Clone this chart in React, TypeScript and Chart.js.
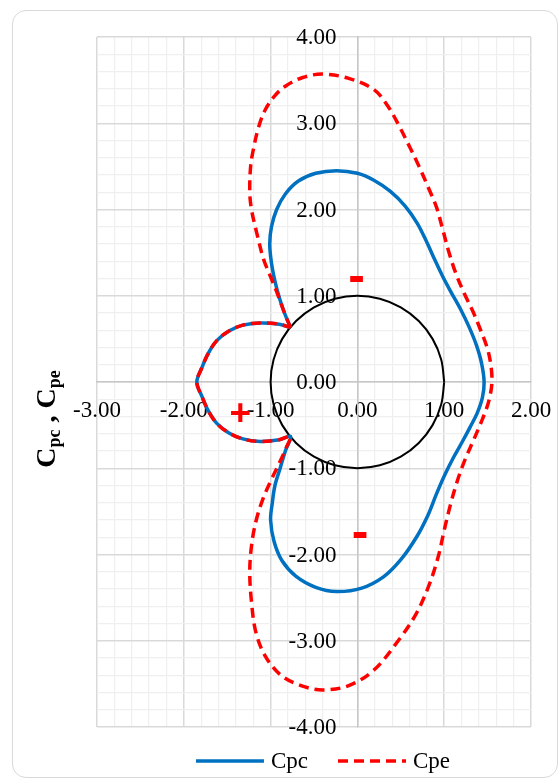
import { useEffect, useRef } from 'react';
import { Chart, registerables } from 'chart.js';

Chart.register(...registerables);

// ---- axis ranges and ticks ----
const X_MIN = -3;
const X_MAX = 2;
const Y_MIN = -4;
const Y_MAX = 4;
const MINOR_STEP = 0.2;

// ---- series labels ----
const SERIES_LABELS = ['Cpc', 'Cpe'];

// ---- Cpc curve (x, y), closed loop ----
const CPC_POINTS: [number, number][] = [
  [-0.77, 0.63], [-0.84, 0.8], [-0.9, 0.98], [-0.95, 1.17], [-0.99, 1.38], [-1.01, 1.6],
  [-0.99, 1.8], [-0.93, 2.0], [-0.83, 2.18], [-0.68, 2.33], [-0.48, 2.42], [-0.24, 2.45],
  [0.0, 2.42], [0.19, 2.34], [0.38, 2.21], [0.55, 2.04], [0.69, 1.84], [0.8, 1.62],
  [0.89, 1.42], [0.98, 1.23], [1.08, 1.04], [1.19, 0.84], [1.29, 0.63], [1.37, 0.43],
  [1.43, 0.22], [1.46, 0.0], [1.44, -0.18], [1.38, -0.36], [1.3, -0.52], [1.21, -0.69],
  [1.11, -0.87], [1.01, -1.07], [0.91, -1.3], [0.81, -1.55], [0.68, -1.8], [0.5, -2.06],
  [0.3, -2.26], [0.05, -2.39], [-0.24, -2.43], [-0.48, -2.38], [-0.71, -2.25], [-0.87, -2.07],
  [-0.96, -1.85], [-1.0, -1.6], [-0.98, -1.4], [-0.95, -1.2], [-0.89, -1.0], [-0.83, -0.8],
  [-0.77, -0.63], [-0.9, -0.67], [-1.12, -0.69], [-1.32, -0.66], [-1.48, -0.59], [-1.62, -0.48],
  [-1.72, -0.33], [-1.79, -0.17], [-1.85, 0.0], [-1.79, 0.17], [-1.72, 0.33], [-1.62, 0.48],
  [-1.48, 0.59], [-1.32, 0.66], [-1.12, 0.685], [-0.9, 0.67], [-0.77, 0.63],
];

// ---- Cpe curve (x, y), closed loop ----
const CPE_POINTS: [number, number][] = [
  [-0.77, 0.63], [-0.84, 0.8], [-0.92, 1.02], [-1.0, 1.22], [-1.08, 1.42], [-1.16, 1.73],
  [-1.22, 2.0], [-1.24, 2.2], [-1.23, 2.5], [-1.2, 2.69], [-1.14, 2.95], [-1.06, 3.16],
  [-0.95, 3.32], [-0.83, 3.43], [-0.63, 3.53], [-0.4, 3.57], [-0.1, 3.52], [0.19, 3.39],
  [0.35, 3.2], [0.48, 2.97], [0.6, 2.73], [0.71, 2.5], [0.81, 2.27], [0.91, 2.03],
  [0.98, 1.78], [1.05, 1.52], [1.13, 1.27], [1.23, 1.03], [1.33, 0.82], [1.42, 0.6],
  [1.5, 0.38], [1.54, 0.18], [1.55, 0.0], [1.53, -0.15], [1.49, -0.3],
  [1.42, -0.48], [1.34, -0.67], [1.24, -0.9], [1.15, -1.15], [1.07, -1.43], [1.0, -1.72], [0.93, -2.03],
  [0.82, -2.37], [0.67, -2.7], [0.47, -3.0], [0.19, -3.34], [-0.1, -3.52], [-0.4, -3.57],
  [-0.65, -3.52], [-0.88, -3.4], [-1.06, -3.18], [-1.17, -2.9], [-1.22, -2.55], [-1.24, -2.2],
  [-1.22, -1.9], [-1.17, -1.62], [-1.09, -1.36], [-0.99, -1.13], [-0.89, -0.92], [-0.82, -0.76],
  [-0.77, -0.63], [-0.9, -0.67], [-1.12, -0.69], [-1.32, -0.66], [-1.48, -0.59], [-1.62, -0.48],
  [-1.72, -0.33], [-1.79, -0.17], [-1.85, 0.0], [-1.79, 0.17], [-1.72, 0.33], [-1.62, 0.48],
  [-1.48, 0.59], [-1.32, 0.66], [-1.12, 0.685], [-0.9, 0.67], [-0.77, 0.63],
];

// ---- unit circle (cylinder surface), points every 15 degrees ----
const CIRCLE_POINTS: [number, number][] = [
  [1, 0], [0.966, 0.259], [0.866, 0.5], [0.707, 0.707], [0.5, 0.866], [0.259, 0.966],
  [0, 1], [-0.259, 0.966], [-0.5, 0.866], [-0.707, 0.707], [-0.866, 0.5], [-0.966, 0.259],
  [-1, 0], [-0.966, -0.259], [-0.866, -0.5], [-0.707, -0.707], [-0.5, -0.866], [-0.259, -0.966],
  [0, -1], [0.259, -0.966], [0.5, -0.866], [0.707, -0.707], [0.866, -0.5], [0.966, -0.259], [1, 0],
];

// ---- pressure sign annotations ----
const SIGN_TEXT = ['+', '-', '-'];
const SIGN_X = [-1.35, -0.01, 0.03];
const SIGN_Y = [-0.35, 1.19, -1.77];

// ---- axis title pieces ----
const TITLE_PARTS = [
  { text: 'C', sub: false },
  { text: 'pc', sub: true },
  { text: ' , ', sub: false },
  { text: 'C', sub: false },
  { text: 'pe', sub: true },
];

const toXY = (pts: [number, number][]) => pts.map(([x, y]) => ({ x, y }));
const isMajor = (v: number) => Math.abs(v - Math.round(v)) < 1e-6;
const fmtTick = (v: any) => {
  const n = Number(v);
  return isMajor(n) ? Math.round(n).toFixed(2) : '';
};

const BLUE = '#0070C0';
const RED = '#FF0000';
const SERIF = '"Liberation Serif", "Times New Roman", serif';
const TICK_FONT = `23px ${SERIF}`;

// y tick labels sit just left of the x = 0 axis line
const yLabelPlugin = {
  id: 'yLabels',
  afterDraw(chart: any) {
    const { ctx, scales } = chart;
    const axisX = scales.x.getPixelForValue(0);
    ctx.save();
    ctx.font = TICK_FONT;
    ctx.fillStyle = '#000';
    ctx.textAlign = 'right';
    ctx.textBaseline = 'middle';
    scales.y.ticks.forEach((t: any) => {
      const label = fmtTick(t.value);
      if (!label) return;
      ctx.fillText(label, axisX - 21, scales.y.getPixelForValue(t.value) + 1);
    });
    ctx.restore();
  },
};

const signPlugin = {
  id: 'signs',
  afterDatasetsDraw(chart: any) {
    const { ctx, scales } = chart;
    ctx.save();
    ctx.fillStyle = RED;
    ctx.textAlign = 'center';
    ctx.textBaseline = 'alphabetic';
    SIGN_TEXT.forEach((t, i) => {
      ctx.font = `bold ${t === '+' ? 37 : 50}px "Liberation Sans", Arial, sans-serif`;
      const px = scales.x.getPixelForValue(SIGN_X[i]);
      const py = scales.y.getPixelForValue(SIGN_Y[i]);
      const m = ctx.measureText(t);
      const asc = m.actualBoundingBoxAscent;
      const desc = m.actualBoundingBoxDescent;
      ctx.fillText(t, px, py + (asc - desc) / 2);
    });
    ctx.restore();
  },
};

const titlePlugin = {
  id: 'ytitle',
  afterDraw(chart: any) {
    const { ctx, chartArea } = chart;
    const big = 28;
    const small = 18;
    ctx.save();
    const widths = TITLE_PARTS.map((p) => {
      ctx.font = `bold ${p.sub ? small : big}px ${SERIF}`;
      return ctx.measureText(p.text).width;
    });
    const total = widths.reduce((a, b) => a + b, 0);
    const cx = chartArea.left - 42;
    const cy = (chartArea.top + chartArea.bottom) / 2 + 37;
    ctx.translate(cx, cy);
    ctx.rotate(-Math.PI / 2);
    ctx.fillStyle = '#000';
    ctx.textBaseline = 'alphabetic';
    ctx.textAlign = 'left';
    let x = -total / 2;
    TITLE_PARTS.forEach((p, i) => {
      ctx.font = `bold ${p.sub ? small : big}px ${SERIF}`;
      ctx.fillText(p.text, x, p.sub ? 5 : 0);
      x += widths[i];
    });
    ctx.restore();
  },
};

const legendPlugin = {
  id: 'lineLegend',
  afterDraw(chart: any) {
    const { ctx, chartArea } = chart;
    const lineLen = 68;
    const gap = 7;
    const itemGap = 30;
    ctx.save();
    ctx.font = TICK_FONT;
    const items = SERIES_LABELS.map((label) => {
      const ds = chart.data.datasets.find((d: any) => d.label === label);
      return { label, ds, tw: ctx.measureText(label).width };
    });
    const total = items.reduce((a, it) => a + lineLen + gap + it.tw, 0) + itemGap * (items.length - 1);
    let x = (chartArea.left + chartArea.right) / 2 + 9 - total / 2;
    const y = chartArea.bottom + 34;
    items.forEach((it) => {
      ctx.strokeStyle = it.ds.borderColor;
      ctx.lineWidth = it.ds.borderWidth;
      ctx.setLineDash(it.ds.borderDash || []);
      ctx.lineCap = 'butt';
      ctx.beginPath();
      ctx.moveTo(x, y);
      ctx.lineTo(x + lineLen, y);
      ctx.stroke();
      ctx.setLineDash([]);
      ctx.fillStyle = '#000';
      ctx.textBaseline = 'middle';
      ctx.textAlign = 'left';
      ctx.fillText(it.label, x + lineLen + gap, y + 1);
      x += lineLen + gap + it.tw + itemGap;
    });
    ctx.restore();
  },
};

export default function App() {
  const canvasRef = useRef<HTMLCanvasElement | null>(null);

  useEffect(() => {
    const canvas = canvasRef.current;
    if (!canvas) return;
    const gridColor = (c: any) => (c.tick && isMajor(c.tick.value) ? '#d9d9d9' : '#efefef');
    const gridWidth = (c: any) => (c.tick && isMajor(c.tick.value) ? 1.5 : 1.2);
    const chart = new Chart(canvas, {
      type: 'scatter',
      data: {
        datasets: [
          {
            label: SERIES_LABELS[1],
            data: toXY(CPE_POINTS),
            showLine: true,
            borderColor: RED,
            backgroundColor: RED,
            borderWidth: 3.5,
            borderDash: [10, 6],
            pointRadius: 0,
            tension: 0.35,
            order: 0,
          },
          {
            label: SERIES_LABELS[0],
            data: toXY(CPC_POINTS),
            showLine: true,
            borderColor: BLUE,
            backgroundColor: BLUE,
            borderWidth: 3.5,
            pointRadius: 0,
            tension: 0.35,
            order: 1,
          },
          {
            label: 'circle',
            data: toXY(CIRCLE_POINTS),
            showLine: true,
            borderColor: '#000',
            backgroundColor: '#000',
            borderWidth: 2,
            pointRadius: 0,
            tension: 0.34,
            order: 2,
          },
        ],
      },
      options: {
        animation: false,
        responsive: false,
        devicePixelRatio: 1,
        layout: { padding: { left: 97, right: 27, top: 37, bottom: 54 } },
        plugins: {
          legend: { display: false },
          tooltip: { enabled: false },
        },
        scales: {
          x: {
            type: 'linear',
            min: X_MIN,
            max: X_MAX,
            position: { y: 0 } as any,
            afterFit: (s: any) => {
              s.paddingLeft = 0;
              s.paddingRight = 0;
            },
            grid: { color: gridColor, lineWidth: gridWidth, drawTicks: false },
            border: { display: true, color: '#c8c8c8', width: 1.5 },
            ticks: {
              stepSize: MINOR_STEP,
              autoSkip: false,
              maxRotation: 0,
              padding: 15,
              color: '#000',
              font: { family: SERIF, size: 23 },
              callback: fmtTick,
            },
          },
          y: {
            type: 'linear',
            min: Y_MIN,
            max: Y_MAX,
            position: { x: 0 } as any,
            afterFit: (s: any) => {
              s.paddingTop = 0;
              s.paddingBottom = 0;
            },
            grid: { color: gridColor, lineWidth: gridWidth, drawTicks: false },
            border: { display: true, color: '#c8c8c8', width: 1.5 },
            ticks: {
              stepSize: MINOR_STEP,
              autoSkip: false,
              display: false,
            },
          },
        },
      },
      plugins: [yLabelPlugin, signPlugin, titlePlugin, legendPlugin],
    });
    return () => chart.destroy();
  }, []);

  return (
    <div style={{ position: 'absolute', left: 0, top: 0, width: 558, height: 781, background: '#fff', overflow: 'hidden' }}>
      <div
        style={{
          position: 'absolute',
          left: 12,
          top: 10,
          width: 546,
          height: 768,
          boxSizing: 'border-box',
          border: '1.5px solid #d9d9d9',
          borderRadius: 14,
        }}
      />
      <canvas ref={canvasRef} width={558} height={781} style={{ position: 'absolute', left: 0, top: 0, width: 558, height: 781 }} />
    </div>
  );
}
